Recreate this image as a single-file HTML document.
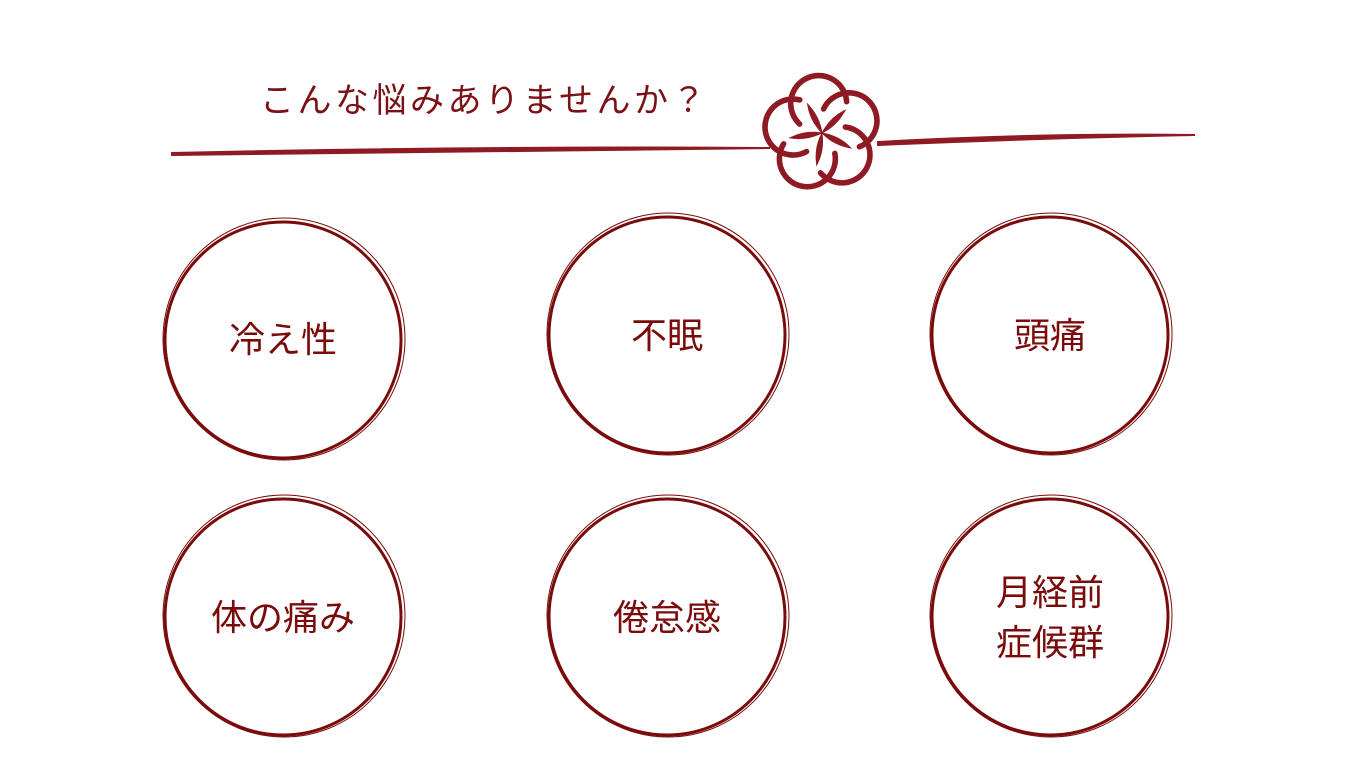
<!DOCTYPE html>
<html><head><meta charset="utf-8"><style>
html,body{margin:0;padding:0;background:#fff;width:1366px;height:768px;overflow:hidden}
.t{position:absolute;font-family:"Liberation Sans","Noto Sans CJK JP",sans-serif;color:#7a0b0b;font-size:36px;text-align:center;line-height:50px}
</style></head><body>
<svg width="1366" height="768" style="position:absolute;left:0;top:0">
<path d="M172,153 Q470,146 770,148 Q470,152 172,155 Z" fill="#8e1a24" stroke="#8e1a24" stroke-width="2"/>
<path d="M878,142 Q1040,133 1195,135 Q1040,138 878,145 Z" fill="#8e1a24" stroke="#8e1a24" stroke-width="2"/>
<g fill="none" stroke="#8e1a24" stroke-width="5" stroke-linecap="round" transform="translate(822,133) scale(1.12)">
 <g id="p"><path d="M-20,-8 A25,25 0 1 1 22,-28"/><path d="M-1,-2 Q-10,-12 -12,-24 Q-3,-14 -1,-2 Z" fill="#8e1a24" stroke-width="2"/></g>
 <use href="#p" transform="rotate(72)"/>
 <use href="#p" transform="rotate(144)"/>
 <use href="#p" transform="rotate(216)"/>
 <use href="#p" transform="rotate(288)"/>
</g>
<g fill="none" stroke="#7a0b0b">
 <g stroke-width="3">
 <circle cx="283" cy="340" r="118"/><circle cx="667" cy="335" r="118"/><circle cx="1050" cy="335" r="118"/>
 <circle cx="283" cy="617" r="118"/><circle cx="667" cy="617" r="118"/><circle cx="1050" cy="617" r="118"/>
 </g>
 <g stroke-width="1">
 <circle cx="284" cy="339" r="121"/><circle cx="668" cy="334" r="121"/><circle cx="1051" cy="334" r="121"/>
 <circle cx="284" cy="616" r="121"/><circle cx="668" cy="616" r="121"/><circle cx="1051" cy="616" r="121"/>
 </g>
</g>
</svg>
<div class="t" style="left:260px;top:76px;width:460px;text-align:left;font-size:34px;letter-spacing:3.5px;color:#7b1116">こんな悩みありませんか？</div>
<div class="t" style="left:163px;top:315px;width:240px">冷え性</div>
<div class="t" style="left:547px;top:311px;width:240px">不眠</div>
<div class="t" style="left:930px;top:311px;width:240px">頭痛</div>
<div class="t" style="left:163px;top:593px;width:240px">体の痛み</div>
<div class="t" style="left:547px;top:593px;width:240px">倦怠感</div>
<div class="t" style="left:930px;top:568px;width:240px">月経前<br>症候群</div>
</body></html>
